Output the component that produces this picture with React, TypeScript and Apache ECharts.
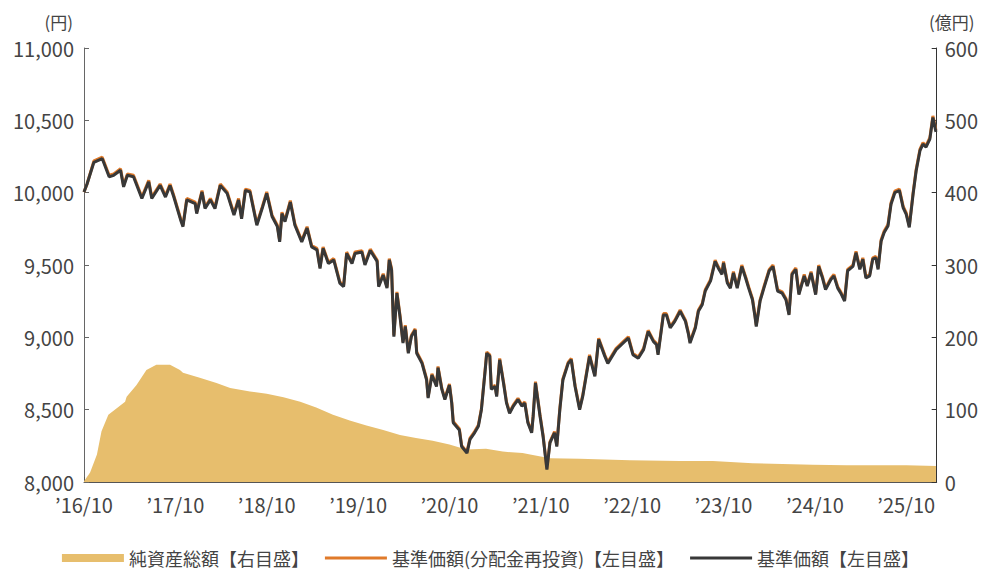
import React, { useEffect, useRef } from "react";
import * as echarts from "echarts";

// 基準価額 (円)
const navPoints: [string, number][] = [
  ["2016-10-01", 10005], ["2016-10-13", 10060], ["2016-11-10", 10210], ["2016-12-13", 10235],
  ["2017-01-10", 10110], ["2017-01-28", 10120], ["2017-02-25", 10155], ["2017-03-07", 10040],
  ["2017-03-22", 10120], ["2017-04-16", 10110], ["2017-05-19", 9960], ["2017-06-16", 10075],
  ["2017-06-28", 9960], ["2017-08-01", 10050], ["2017-08-22", 9970], ["2017-09-10", 10050],
  ["2017-09-25", 9970], ["2017-10-22", 9810], ["2017-11-01", 9765], ["2017-11-16", 9950],
  ["2017-12-19", 9925], ["2017-12-25", 9855], ["2018-01-16", 10005], ["2018-01-28", 9890],
  ["2018-02-19", 9950], ["2018-03-07", 9890], ["2018-03-28", 10050], ["2018-04-25", 9995],
  ["2018-05-22", 9845], ["2018-06-10", 9950], ["2018-06-22", 9820], ["2018-07-07", 10015],
  ["2018-07-25", 10005], ["2018-08-22", 9775], ["2018-09-13", 9890], ["2018-10-01", 9995],
  ["2018-10-22", 9835], ["2018-11-13", 9765], ["2018-11-22", 9660], ["2018-12-01", 9855],
  ["2018-12-13", 9800], ["2019-01-04", 9935], ["2019-01-22", 9775], ["2019-02-19", 9660],
  ["2019-03-10", 9755], ["2019-03-28", 9625], ["2019-04-19", 9605], ["2019-05-01", 9475],
  ["2019-05-13", 9615], ["2019-06-04", 9510], ["2019-06-25", 9535], ["2019-07-19", 9375],
  ["2019-08-04", 9350], ["2019-08-16", 9580], ["2019-09-07", 9510], ["2019-09-19", 9580],
  ["2019-10-16", 9590], ["2019-10-28", 9500], ["2019-11-19", 9600], ["2019-12-16", 9525],
  ["2019-12-22", 9350], ["2020-01-10", 9430], ["2020-01-25", 9340], ["2020-02-04", 9535],
  ["2020-02-13", 9465], ["2020-02-22", 9005], ["2020-03-04", 9305], ["2020-03-16", 9145],
  ["2020-03-28", 8960], ["2020-04-07", 9075], ["2020-04-19", 8890], ["2020-05-01", 9005],
  ["2020-05-16", 9050], ["2020-05-22", 8890], ["2020-06-13", 8820], ["2020-07-01", 8705],
  ["2020-07-07", 8580], ["2020-07-22", 8740], ["2020-08-10", 8660], ["2020-08-16", 8790],
  ["2020-09-01", 8640], ["2020-09-13", 8570], ["2020-10-01", 8670], ["2020-10-10", 8545],
  ["2020-10-16", 8410], ["2020-11-10", 8360], ["2020-11-19", 8245], ["2020-12-10", 8200],
  ["2020-12-22", 8295], ["2021-01-10", 8340], ["2021-01-25", 8385], ["2021-02-07", 8500],
  ["2021-02-22", 8775], ["2021-02-28", 8890], ["2021-03-10", 8870], ["2021-03-16", 8640],
  ["2021-04-01", 8660], ["2021-04-07", 8590], ["2021-04-19", 8845], ["2021-05-04", 8685],
  ["2021-05-16", 8545], ["2021-05-28", 8475], ["2021-06-13", 8525], ["2021-07-01", 8570],
  ["2021-07-16", 8525], ["2021-07-28", 8545], ["2021-08-10", 8410], ["2021-08-25", 8340],
  ["2021-09-01", 8455], ["2021-09-10", 8685], ["2021-09-28", 8455], ["2021-10-10", 8315],
  ["2021-10-25", 8085], ["2021-11-07", 8270], ["2021-11-25", 8340], ["2021-12-04", 8245],
  ["2021-12-16", 8500], ["2021-12-28", 8705], ["2022-01-19", 8820], ["2022-02-01", 8845],
  ["2022-02-16", 8660], ["2022-03-04", 8500], ["2022-03-16", 8590], ["2022-04-13", 8870],
  ["2022-05-04", 8730], ["2022-05-19", 8985], ["2022-06-13", 8870], ["2022-06-25", 8820],
  ["2022-07-28", 8915], ["2022-09-01", 8970], ["2022-09-16", 8995], ["2022-10-04", 8880],
  ["2022-10-25", 8855], ["2022-11-16", 8915], ["2022-12-04", 9040], ["2022-12-25", 8970],
  ["2023-01-07", 8950], ["2023-01-13", 8880], ["2023-02-04", 9155], ["2023-02-16", 9155],
  ["2023-03-01", 9065], ["2023-03-19", 9110], ["2023-04-10", 9180], ["2023-05-01", 9110],
  ["2023-05-13", 9020], ["2023-05-19", 8960], ["2023-06-10", 9065], ["2023-06-22", 9180],
  ["2023-07-07", 9225], ["2023-07-19", 9320], ["2023-08-10", 9390], ["2023-08-28", 9525],
  ["2023-09-10", 9480], ["2023-09-25", 9435], ["2023-10-01", 9515], ["2023-10-16", 9375],
  ["2023-10-28", 9340], ["2023-11-10", 9445], ["2023-11-25", 9340], ["2023-12-13", 9490],
  ["2023-12-28", 9410], ["2024-01-10", 9340], ["2024-01-25", 9260], ["2024-02-04", 9155],
  ["2024-02-10", 9075], ["2024-02-25", 9250], ["2024-03-10", 9340], ["2024-04-01", 9460],
  ["2024-04-16", 9490], ["2024-05-04", 9320], ["2024-05-22", 9305], ["2024-06-07", 9260],
  ["2024-06-19", 9155], ["2024-07-01", 9435], ["2024-07-16", 9470], ["2024-07-28", 9295],
  ["2024-08-19", 9425], ["2024-09-01", 9355], ["2024-09-16", 9445], ["2024-10-04", 9295],
  ["2024-10-16", 9490], ["2024-11-01", 9410], ["2024-11-13", 9330], ["2024-12-04", 9400],
  ["2024-12-16", 9425], ["2025-01-01", 9340], ["2025-01-13", 9305], ["2025-01-28", 9250],
  ["2025-02-10", 9460], ["2025-03-01", 9490], ["2025-03-13", 9585], ["2025-03-28", 9470],
  ["2025-04-10", 9540], ["2025-04-22", 9410], ["2025-05-07", 9425], ["2025-05-19", 9540],
  ["2025-06-01", 9550], ["2025-06-10", 9470], ["2025-06-22", 9665], ["2025-07-04", 9725],
  ["2025-07-19", 9770], ["2025-08-01", 9920], ["2025-08-16", 10000], ["2025-09-04", 10015],
  ["2025-09-19", 9895], ["2025-10-01", 9850], ["2025-10-13", 9760], ["2025-10-28", 9990],
  ["2025-11-10", 10150], ["2025-11-25", 10290], ["2025-12-07", 10335], ["2025-12-19", 10315],
  ["2026-01-04", 10370], ["2026-01-16", 10520], ["2026-01-28", 10420],
];

// 分配金 (円) — estimated from the gap between the two lines
const distributionDates = ["2016-10-17"];
const distributionAmounts = [10];

// 純資産総額 (億円)
const assetPoints: [string, number][] = [
  ["2016-10-01", 1], ["2016-10-25", 13], ["2016-11-22", 38], ["2016-12-10", 70],
  ["2017-01-07", 93], ["2017-02-10", 102], ["2017-03-13", 111], ["2017-03-19", 118],
  ["2017-04-28", 134], ["2017-06-07", 155], ["2017-07-16", 162], ["2017-09-10", 162],
  ["2017-10-19", 155], ["2017-11-01", 151], ["2018-01-07", 144], ["2018-03-13", 137],
  ["2018-05-07", 130], ["2018-07-25", 125], ["2018-10-01", 122], ["2018-12-07", 117],
  ["2019-02-13", 111], ["2019-04-16", 103], ["2019-06-22", 93], ["2019-08-28", 85],
  ["2019-11-04", 78], ["2020-01-10", 72], ["2020-03-16", 65], ["2020-05-19", 61],
  ["2020-07-25", 57], ["2020-10-01", 52], ["2020-12-07", 45], ["2021-02-25", 46],
  ["2021-05-01", 42], ["2021-07-19", 40], ["2021-08-19", 38], ["2021-11-07", 33],
  ["2022-03-04", 32], ["2022-09-22", 30], ["2023-04-07", 29], ["2023-08-19", 29],
  ["2024-01-25", 26], ["2024-09-22", 24], ["2025-02-04", 23], ["2025-10-01", 23],
  ["2026-01-28", 22],
];

const xTickLabels = ["’16/10", "’17/10", "’18/10", "’19/10", "’20/10", "’21/10", "’22/10", "’23/10", "’24/10", "’25/10"];
const seriesNames = ["純資産総額【右目盛】", "基準価額(分配金再投資)【左目盛】", "基準価額【左目盛】"];
const leftUnit = "(円)";
const rightUnit = "(億円)";

const FONT = "'Noto Sans CJK JP', 'Noto Sans', sans-serif";
const START_YEAR = 2016;
const START_MONTH = 10;
const LINE_ICON = "path://M0,0H62V3H0Z";

function toMonth(d: string): number {
  const [y, m, day] = d.split("-").map(Number);
  return (y - START_YEAR) * 12 + (m - START_MONTH) + (day - 1) / 30;
}

function reinvested(points: [string, number][]): [number, number][] {
  const distMonths = distributionDates.map(toMonth);
  const factors = distMonths.map((dm, i) => {
    let nav = points[0][1];
    for (const p of points) if (toMonth(p[0]) <= dm) nav = p[1];
    return 1 + distributionAmounts[i] / nav;
  });
  return points.map(([d, v]) => {
    const m = toMonth(d);
    let f = 1;
    distMonths.forEach((dm, i) => {
      if (m >= dm) f *= factors[i];
    });
    return [m, v * f];
  });
}

export default function App() {
  const ref = useRef<HTMLDivElement>(null);
  useEffect(() => {
    if (!ref.current) return;
    const chart = echarts.init(ref.current, null, { renderer: "svg" });
    const nav = navPoints.map(([d, v]) => [toMonth(d), v]);
    const navRe = reinvested(navPoints);
    const assets = assetPoints.map(([d, v]) => [toMonth(d), v]);
    const lastMonth = 112;

    chart.setOption({
      animation: false,
      textStyle: { fontFamily: FONT },
      grid: { left: 84, right: 44, top: 48, bottom: 90 },
      xAxis: {
        type: "value",
        min: 0,
        max: lastMonth,
        interval: 12,
        splitLine: { show: false },
        axisLine: { lineStyle: { color: "#555", width: 1 } },
        axisTick: { inside: true, length: 5, lineStyle: { color: "#555" } },
        axisLabel: {
          color: "#444",
          fontSize: 20,
          fontFamily: FONT,
          margin: 12,
          showMaxLabel: false,
          formatter: (v: number) => (v % 12 === 0 ? xTickLabels[v / 12] ?? "" : ""),
        },
      },
      yAxis: [
        {
          type: "value",
          min: 8000,
          max: 11000,
          interval: 500,
          splitLine: { show: false },
          axisLine: { show: true, lineStyle: { color: "#666", width: 1 } },
          axisTick: { show: true, inside: true, length: 5, lineStyle: { color: "#666" } },
          axisLabel: {
            color: "#444",
            fontSize: 20,
            fontFamily: FONT,
            margin: 10,
            formatter: (v: number) => v.toLocaleString("en-US"),
          },
        },
        {
          type: "value",
          min: 0,
          max: 600,
          interval: 100,
          position: "right",
          splitLine: { show: false },
          axisLine: { show: true, lineStyle: { color: "#333", width: 1 } },
          axisTick: { show: true, inside: true, length: 5, lineStyle: { color: "#333" } },
          axisLabel: { color: "#444", fontSize: 20, fontFamily: FONT, margin: 8 },
        },
      ],
      legend: {
        left: "center",
        top: 544,
        itemWidth: 62,
        itemHeight: 8,
        itemGap: 16,
        textStyle: { color: "#444", fontSize: 18, fontFamily: FONT },
        data: [
          { name: seriesNames[0], icon: "rect" },
          { name: seriesNames[1], icon: LINE_ICON },
          { name: seriesNames[2], icon: LINE_ICON },
        ],
      },
      graphic: [
        {
          type: "text",
          x: 73,
          y: 21,
          style: { text: leftUnit, fill: "#444", font: `17px ${FONT}`, textAlign: "right", textVerticalAlign: "middle" },
        },
        {
          type: "text",
          x: 929,
          y: 21,
          style: { text: rightUnit, fill: "#444", font: `17px ${FONT}`, textAlign: "left", textVerticalAlign: "middle" },
        },
      ],
      series: [
        {
          name: seriesNames[0],
          type: "line",
          yAxisIndex: 1,
          data: assets,
          showSymbol: false,
          symbol: "none",
          lineStyle: { width: 0, color: "#E7BE6D" },
          itemStyle: { color: "#E7BE6D" },
          areaStyle: { color: "#E7BE6D", opacity: 1 },
          z: 1,
        },
        {
          name: seriesNames[1],
          type: "line",
          yAxisIndex: 0,
          data: navRe,
          showSymbol: false,
          symbol: "none",
          lineStyle: { width: 3, color: "#E07A2A" },
          itemStyle: { color: "#E07A2A" },
          z: 2,
        },
        {
          name: seriesNames[2],
          type: "line",
          yAxisIndex: 0,
          data: nav,
          showSymbol: false,
          symbol: "none",
          lineStyle: { width: 3, color: "#383838" },
          itemStyle: { color: "#383838" },
          z: 3,
        },
      ],
    });
    return () => chart.dispose();
  }, []);

  return (
    <div
      ref={ref}
      style={{ position: "fixed", left: 0, top: 0, width: 981, height: 572, background: "#fff" }}
    />
  );
}
